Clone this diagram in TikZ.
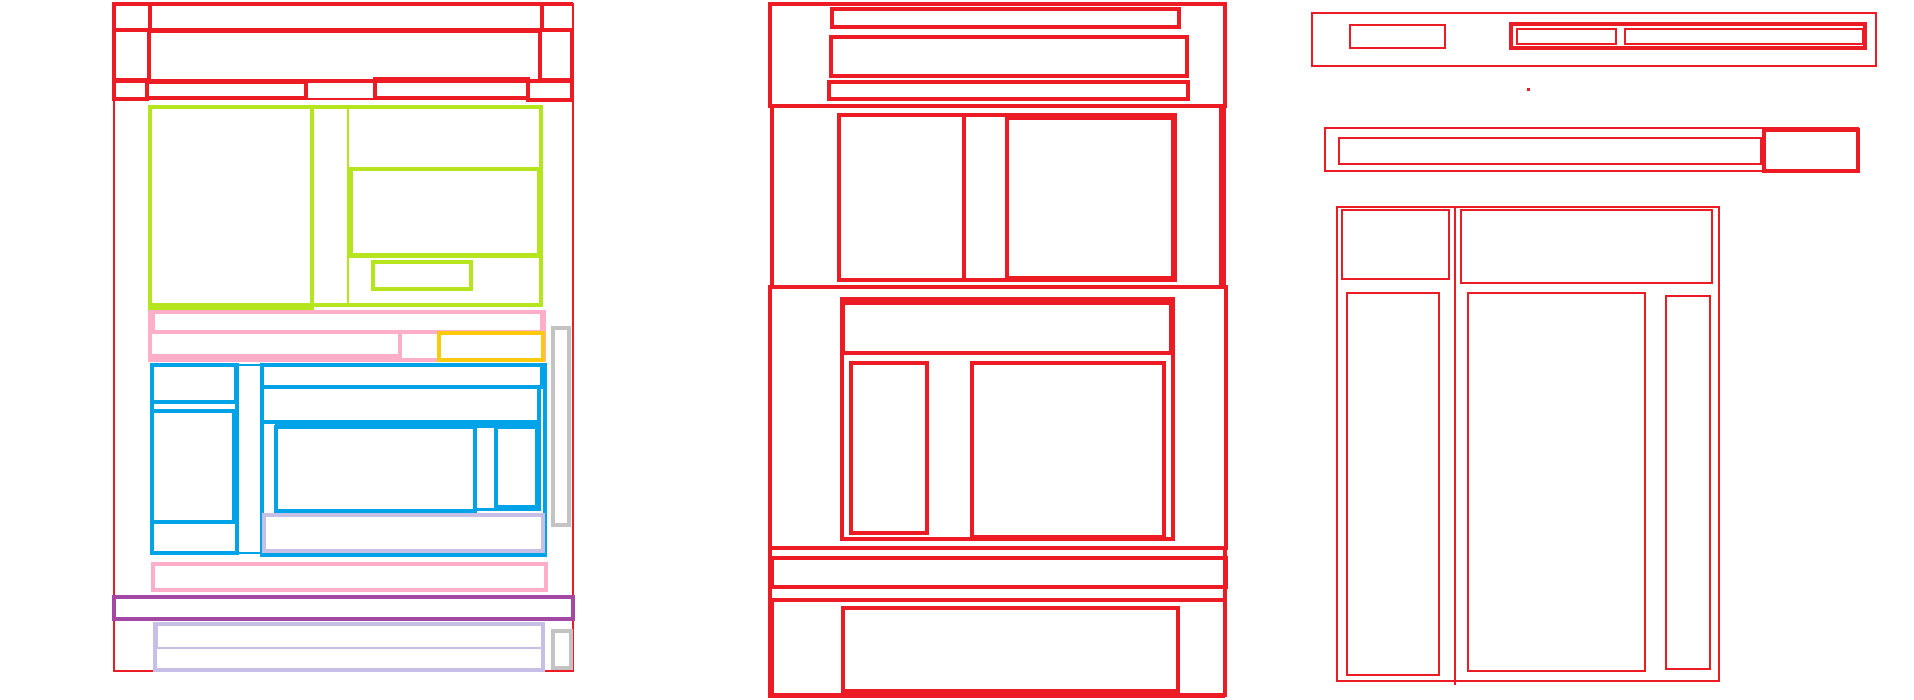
\documentclass[tikz,border=0pt]{standalone}
\usepackage{xcolor}
\usetikzlibrary{positioning}

\definecolor{pred}{HTML}{ED1C24}
\definecolor{plime}{HTML}{B5E61D}
\definecolor{ppink}{HTML}{FFAEC9}
\definecolor{pgold}{HTML}{FFC90E}
\definecolor{pblue}{HTML}{00A2E8}
\definecolor{plav}{HTML}{C8BFE7}
\definecolor{ppurple}{HTML}{A349A4}
\definecolor{pgray}{HTML}{C3C3C3}

\begin{document}
\begin{tikzpicture}[
    x=0.01cm, y=-0.01cm,
    thin box/.style={draw=#1, line width=0.6pt},
    mid box/.style={draw=#1, line width=0.9pt},
    heavy box/.style={draw=#1, line width=1.3pt}
]
    \useasboundingbox (0,0) rectangle (1914,700);

    % Panel 1: header rows
    \draw[thin box=pred] (114,4) rectangle (573,671);
    \draw[heavy box=pred] (114,4) -- (573,4);
    \draw[mid box=pred] (114,4) rectangle (150,30);
    \draw[mid box=pred] (150,4) rectangle (542,30);
    \draw[mid box=pred] (114,30) rectangle (149,80);
    \draw[mid box=pred] (149,31) rectangle (540,81);
    \draw[mid box=pred] (540,30) rectangle (572,80);
    \draw[mid box=pred] (114,81) rectangle (147,99);
    \draw[mid box=pred] (147,82) rectangle (306,98);
    \draw[thin box=pred] (306,82) rectangle (375,99);
    \draw[mid box=pred] (375,79) rectangle (528,98);
    \draw[mid box=pred] (528,81) rectangle (572,100);

    % Panel 1: green block
    \draw[heavy box=plime] (150,107) rectangle (541,305);
    \draw[heavy box=plime] (150,107) rectangle (312,308);
    \draw[thin box=plime] (312,107) rectangle (348,305);
    \draw[thin box=plime] (348,107) rectangle (541,168);
    \draw[mid box=plime] (351,169) rectangle (539,255);
    \draw[mid box=plime] (348,256) -- (541,256);
    \draw[mid box=plime] (373,262) rectangle (471,289);

    % Panel 1: pink and gold row
    \draw[heavy box=ppink] (150,312) rectangle (544,360);
    \draw[mid box=ppink] (153,312) rectangle (542,332);
    \draw[mid box=ppink] (150,332) rectangle (400,356);
    \draw[thin box=ppink] (400,332) rectangle (439,360);
    \draw[mid box=pgold] (439,333) rectangle (543,360);
    \draw[mid box=pgray] (553,328) rectangle (569,525);

    % Panel 1: blue block
    \draw[heavy box=pblue] (152,365) rectangle (237,553);
    \draw[heavy box=pblue] (152,365) rectangle (236,402);
    \draw[thin box=pblue] (152,402) rectangle (236,411);
    \draw[heavy box=pblue] (152,411) rectangle (234,522);
    \draw[thin box=pblue] (152,522) rectangle (236,553);
    \draw[thin box=pblue] (237,365) rectangle (262,553);
    \draw[heavy box=pblue] (262,365) rectangle (545,555);
    \draw[mid box=pblue] (262,365) rectangle (542,387);
    \draw[mid box=pblue] (262,387) rectangle (539,422);
    \draw[heavy box=pblue] (276,427) rectangle (475,511);
    \draw[thin box=pblue] (475,427) rectangle (496,509);
    \draw[heavy box=pblue] (496,427) rectangle (537,507);
    \draw[thin box=pblue] (276,425) rectangle (540,510);
    \draw[mid box=plav] (264,515) rectangle (543,551);

    % Panel 1: footer rows
    \draw[mid box=ppink] (153,564) rectangle (546,590);
    \draw[mid box=ppurple] (114,597) rectangle (573,619);
    \draw[heavy box=plav] (155,624) rectangle (543,670);
    \draw[thin box=plav] (157,625) rectangle (542,648);
    \draw[mid box=pgray] (553,631) rectangle (571,668);

    % Panel 2: top section
    \draw[mid box=pred] (770,4) rectangle (1225,106);
    \draw[mid box=pred] (832,9) rectangle (1179,27);
    \draw[mid box=pred] (831,37) rectangle (1187,76);
    \draw[mid box=pred] (829,82) rectangle (1188,99);

    % Panel 2: middle sections
    \draw[mid box=pred] (772,106) rectangle (1221,287);
    \draw[mid box=pred] (1224,106) -- (1224,287);
    \draw[heavy box=pred] (839,115) rectangle (1175,280);
    \draw[mid box=pred] (839,115) rectangle (964,280);
    \draw[mid box=pred] (1007,118) rectangle (1173,278);
    \draw[mid box=pred] (770,287) rectangle (1226,548);
    \draw[heavy box=pred] (770,287) -- (770,548);
    \draw[mid box=pred] (842,299) rectangle (1173,539);
    \draw[mid box=pred] (843,303) rectangle (1171,353);
    \draw[mid box=pred] (851,363) rectangle (927,533);
    \draw[mid box=pred] (972,363) rectangle (1164,537);

    % Panel 2: bar and bottom section
    \draw[mid box=pred] (770,548) rectangle (1225,600);
    \draw[mid box=pred] (772,558) rectangle (1226,587);
    \draw[mid box=pred] (772,600) rectangle (1225,695);
    \draw[heavy box=pred] (770,548) -- (770,696) -- (1225,696);
    \draw[mid box=pred] (843,608) rectangle (1178,691);

    % Panel 3: top bar
    \draw[thin box=pred] (1312,13) rectangle (1876,66);
    \draw[thin box=pred] (1350,25) rectangle (1445,48);
    \draw[mid box=pred] (1511,24) rectangle (1865,48);
    \draw[thin box=pred] (1517,29) rectangle (1616,44);
    \draw[thin box=pred] (1625,29) rectangle (1863,44);
    \fill[pred] (1527,87.5) rectangle (1530,90.5);

    % Panel 3: search row
    \draw[thin box=pred] (1325,128) rectangle (1858,171);
    \draw[thin box=pred] (1339,138) rectangle (1761,164);
    \draw[mid box=pred] (1764,130) rectangle (1858,171);

    % Panel 3: columns
    \draw[thin box=pred] (1337,207) rectangle (1719,681);
    \draw[thin box=pred] (1455,207) -- (1455,685);
    \draw[thin box=pred] (1342,210) rectangle (1449,279);
    \draw[thin box=pred] (1347,293) rectangle (1439,675);
    \draw[thin box=pred] (1461,210) rectangle (1712,283);
    \draw[thin box=pred] (1468,293) rectangle (1645,671);
    \draw[thin box=pred] (1666,296) rectangle (1710,669);
\end{tikzpicture}
\end{document}
